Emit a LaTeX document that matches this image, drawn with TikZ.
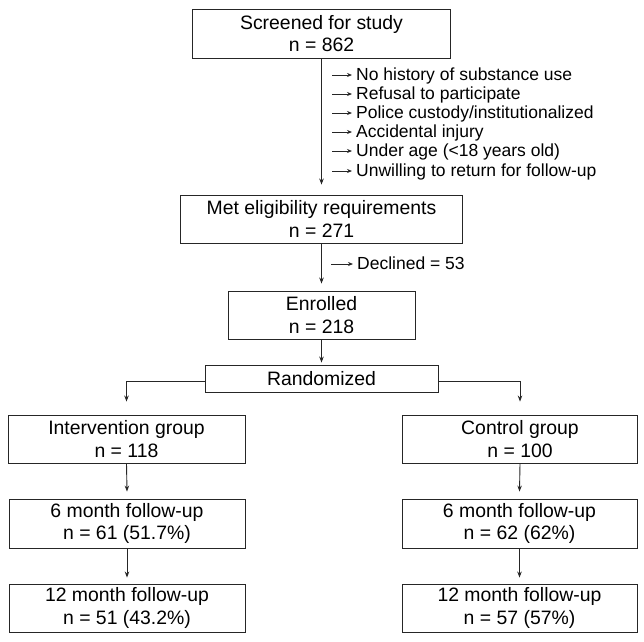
\documentclass[tikz,border=0pt]{standalone}
\usepackage{fontspec}
\setmainfont{Liberation Sans}
\usetikzlibrary{arrows.meta,calc}
\begin{document}
\begin{tikzpicture}[x=1pt,y=-1pt,
 box/.style={draw=black!85, line width=0.9pt, align=center, inner sep=0pt, font=\fontsize{19.4}{22.5}\selectfont},
 arr/.style={draw=black!85, line width=0.9pt, -{Stealth[length=6pt,width=4.5pt]}},
 sarr/.style={draw=black!85, line width=0.8pt, shorten >=4pt, -{Stealth[length=5pt,width=4pt]}},
 note/.style={anchor=west, inner sep=0pt, font=\fontsize{17.5}{19}\selectfont, text height=12.6pt, text depth=3.7pt}]
\useasboundingbox (0,0) rectangle (644,641);
% central boxes
\node[box, minimum width=258pt, minimum height=49pt] (scr) at (321.5,33.5) {Screened for study\\n = 862};
\node[box, minimum width=282pt, minimum height=48pt] (met) at (321.5,219) {Met eligibility requirements\\n = 271};
\node[box, minimum width=187pt, minimum height=48pt] (enr) at (321.5,315) {Enrolled\\n = 218};
\node[box, minimum width=233pt, minimum height=27pt] (rand) at (321.5,378.5) {Randomized};
% groups
\node[box, minimum width=237pt, minimum height=48pt] (intv) at (126.5,439) {Intervention group\\n = 118};
\node[box, minimum width=235pt, minimum height=48pt] (ctrl) at (520,439) {Control group\\n = 100};
\node[box, minimum width=236pt, minimum height=49pt] (sixl) at (127,523.5) {6 month follow-up\\n = 61 (51.7\%)};
\node[box, minimum width=235pt, minimum height=49pt] (sixr) at (519.5,523.5) {6 month follow-up\\n = 62 (62\%)};
\node[box, minimum width=236pt, minimum height=48pt] (twl) at (127,608) {12 month follow-up\\n = 51 (43.2\%)};
\node[box, minimum width=235pt, minimum height=48pt] (twr) at (519.5,608) {12 month follow-up\\n = 57 (57\%)};
% exclusions
\node[note] (e1) at (356,76) {No history of substance use};
\node[note] (e2) at (356,95) {Refusal to participate};
\node[note] (e3) at (356,114) {Police custody/institutionalized};
\node[note] (e4) at (356,133) {Accidental injury};
\node[note] (e5) at (356,152) {Under age (<18 years old)};
\node[note] (e6) at (356,172) {Unwilling to return for follow-up};
\node[note] (dec) at (357,265) {Declined = 53};
\foreach \i/\y in {1/75,2/94,3/113,4/132,5/151,6/171}{
  \coordinate (s\i) at (332,\y);
  \draw[sarr] (s\i) -- (s\i -| e\i.west);
}
\coordinate (sd) at (331,264);
\draw[sarr] (sd) -- (sd -| dec.west);
% main arrows
\draw[arr] (scr.south) -- ($(met.north)+(0,-10)$);
\draw[arr] (met.south) -- ($(enr.north)+(0,-7)$);
\draw[arr] (enr.south) -- ($(rand.north)+(0,-2)$);
\draw[arr] ($(rand.west)+(0,3)$) -| ($(intv.north)+(0,-13)$);
\draw[arr] ($(rand.east)+(0,3)$) -| ($(ctrl.north)+(0,-13)$);
\draw[arr] (intv.south) -- ($(sixl.north|-sixl.north)+(0,-7)$);
\draw[arr] (ctrl.south) -- ($(sixr.north)+(0,-7)$);
\draw[arr] (sixl.south) -- ($(twl.north)+(0,-6)$);
\draw[arr] (sixr.south) -- ($(twr.north)+(0,-6)$);
\end{tikzpicture}
\end{document}
